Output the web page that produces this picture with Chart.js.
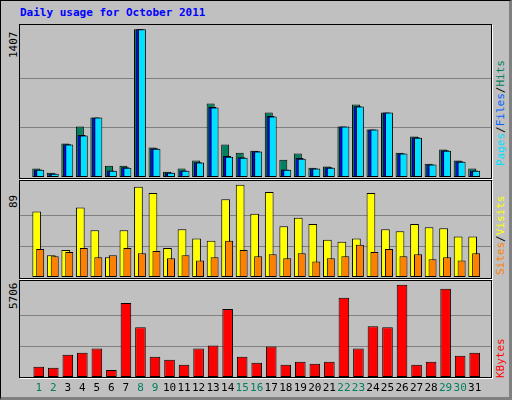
<!DOCTYPE html>
<html><head><meta charset="utf-8">
<script src="https://cdn.jsdelivr.net/npm/chart.js@4/dist/chart.umd.min.js"></script>
<style>
html,body{margin:0;padding:0;background:#c0c0c0;}
#frame{position:absolute;left:0;top:0;width:508px;height:396px;border:1px solid #000;border-right:3px solid #808080;border-bottom:3px solid #808080;box-sizing:content-box;width:508px;height:396px;}
.t{position:absolute;font-family:"DejaVu Sans Mono",monospace;font-size:11px;white-space:nowrap;}
.rot{transform-origin:left top;transform:rotate(-90deg);}
.panel{position:absolute;left:19px;width:471px;border:1px solid #000;box-shadow:1px 1px 0 #fff;}
canvas{position:absolute;}
</style></head><body>
<div id="frame"></div>
<div class="t" style="left:20px;top:6px;color:#0000ff;font-weight:bold;">Daily usage for October 2011</div>
<div class="panel" style="top:24px;height:153px;"></div>
<div class="panel" style="top:180px;height:97px;"></div>
<div class="panel" style="top:280px;height:96px;"></div>
<div class="t rot" style="left:7px;top:58px;color:#000;">1407</div>
<div class="t rot" style="left:7px;top:208px;color:#000;">89</div>
<div class="t rot" style="left:7px;top:309px;color:#000;">5706</div>
<div class="t rot" style="left:494px;top:166px;"><span style="color:#00e0ff">Pages</span><span style="color:#000">/</span><span style="color:#0060ff">Files</span><span style="color:#000">/</span><span style="color:#008060">Hits</span></div>
<div class="t rot" style="left:494px;top:275px;"><span style="color:#ff8000">Sites</span><span style="color:#000">/</span><span style="color:#ffff00">Visits</span></div>
<div class="t rot" style="left:494px;top:378px;color:#ff0000;">KBytes</div>
<canvas id="c1" style="left:20px;top:25px;width:471px;height:152px"></canvas>
<canvas id="c2" style="left:20px;top:181px;width:471px;height:96px"></canvas>
<canvas id="c3" style="left:20px;top:281px;width:471px;height:117px"></canvas>
<script>
const days=[1,2,3,4,5,6,7,8,9,10,11,12,13,14,15,16,17,18,19,20,21,22,23,24,25,26,27,28,29,30,31];
const weekend=[1,2,8,9,15,16,22,23,29,30];
const hits=[80,41,318,480,566,108,108,1407,280,51,80,156,700,309,232,251,614,165,223,89,99,480,690,452,614,232,385,127,261,156,80];
const files=[72,34,312,400,566,62,92,1407,273,43,62,140,666,200,188,245,580,72,180,82,92,480,675,452,614,225,378,120,254,150,62];
const pages=[70,32,309,395,566,60,89,1407,270,41,60,137,662,194,184,242,576,70,175,80,89,480,671,452,614,223,375,118,251,146,60];
const visits=[63,21,26,67,45,19,45,87,81,28,46,37,35,75,89,61,82,49,57,51,36,34,37,81,46,44,51,48,47,39,39];
const sites=[27,20,24,28,19,21,28,23,25,18,21,16,19,35,26,20,22,18,23,15,18,20,31,24,27,20,22,17,19,16,23];
const kbytes=[627,564,1380,1505,1756,439,4577,3072,1254,1066,752,1756,1944,4201,1254,878,1881,752,940,815,940,4890,1756,3135,3072,5706,752,940,5455,1317,1505];
const maxes=[1407,89,5706];

const XMIN=0.233, XMAX=31.6;
function xAxis(shift,show){
  return {type:'linear',display:show,min:XMIN-shift,max:XMAX-shift,
    afterBuildTicks:s=>{s.ticks=days.map(v=>({value:v}));},
    afterFit:s=>{if(show)s.height=21;},
    grid:{display:false,drawTicks:false},border:{display:false},
    ticks:{display:show,padding:5,autoSkip:false,maxRotation:0,font:{family:'DejaVu Sans Mono',size:11},
      color:c=>weekend.includes(c.tick.value)?'#008060':'#000',callback:v=>String(v)}};
}
function yAxis(max,top){
  return {display:true,min:0,max:top,
    afterBuildTicks:s=>{s.ticks=[{value:max/3},{value:2*max/3}];},
    afterFit:s=>{s.width=0;},
    grid:{color:'#808080',lineWidth:1,drawTicks:false},border:{display:false},ticks:{display:false}};
}
function ds(arr,color,axis,pct){
  return {data:arr.map((v,i)=>({x:days[i],y:v})),backgroundColor:color,borderColor:'#000',borderWidth:1,
    xAxisID:axis,grouped:false,barPercentage:pct,categoryPercentage:1,borderSkipped:false};
}
const base={responsive:false,animation:false,events:[],layout:{padding:0},
  plugins:{legend:{display:false},tooltip:{enabled:false}}};
function mk(id,w,h,datasets,scales){
  const c=document.getElementById(id);c.width=w;c.height=h;
  new Chart(c,{type:'bar',data:{datasets},options:Object.assign({},base,{devicePixelRatio:1,scales})});
}
mk('c1',471,152,[ds(pages,'#00e0ff','xp',0.55),ds(files,'#0000ff','xf',0.55),ds(hits,'#008060','xh',0.55)],
  {xh:xAxis(-0.17,false),xf:xAxis(-0.05,false),xp:xAxis(0.1,false),y:yAxis(maxes[0],1448)});
mk('c2',471,96,[ds(sites,'#ff8000','xs',0.55),ds(visits,'#ffff00','xv',0.6)],
  {xv:xAxis(-0.14,false),xs:xAxis(0.1,false),y:yAxis(maxes[1],92.5)});
mk('c3',471,117,[ds(kbytes,'#ff0000','x',0.73)],
  {x:xAxis(0,true),y:yAxis(maxes[2],5932)});
</script>
</body></html>
